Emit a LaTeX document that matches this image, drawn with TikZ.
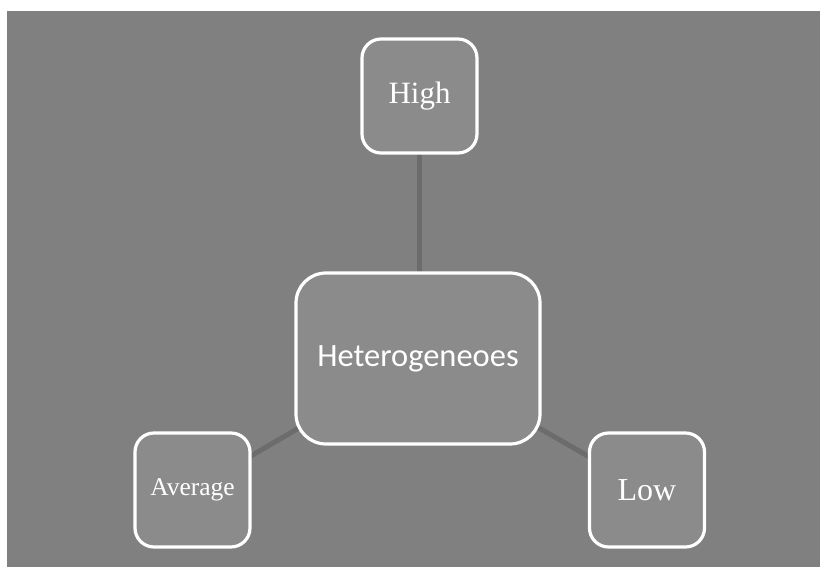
\documentclass[tikz,border=0pt]{standalone}
\usepackage{fontspec}
\usetikzlibrary{backgrounds}
\setmainfont{Liberation Serif}
\newfontfamily\calfont{Carlito}
\definecolor{bggray}{HTML}{808080}
\definecolor{boxgray}{HTML}{8B8B8B}
\definecolor{linegray}{HTML}{6C6C6C}
\begin{document}
\begin{tikzpicture}[x=1pt,y=-1pt,
  boxnode/.style={draw=white, line width=3.2pt, fill=boxgray, rounded corners=19pt, text=white, inner sep=0pt, minimum width=115pt, minimum height=114pt},
  conn/.style={draw=linegray, line width=5pt}]
\useasboundingbox (0,0) rectangle (820,567);
\node[boxnode, minimum width=244pt, minimum height=171pt, rounded corners=30pt, font=\calfont\fontsize{32.5}{36}\selectfont] (het) at (418,358.5) {Heterogeneoes};
\node[boxnode, font=\fontsize{31}{34}\selectfont] (high) at (419.5,96) {High};
\node[boxnode, font=\fontsize{25.5}{28}\selectfont] (avg) at (192.5,490) {Average};
\node[boxnode, font=\fontsize{32}{35}\selectfont] (low) at (647,490) {Low};
\begin{scope}[on background layer]
\fill[white] (0,0) rectangle (820,567);
\fill[bggray] (7,11) rectangle (820,567);
\draw[conn] (high.center) -- (high.center |- het.center);
\draw[conn] (het.center) -- (avg.center);
\draw[conn] (het.center) -- (low.center);
\end{scope}
\end{tikzpicture}
\end{document}
